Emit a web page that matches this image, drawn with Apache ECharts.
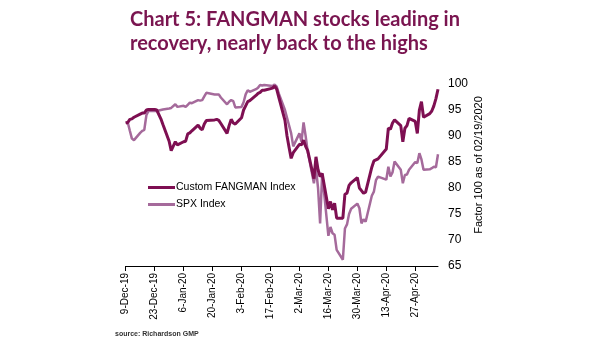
<!DOCTYPE html>
<html>
<head>
<meta charset="utf-8">
<script src="https://cdn.jsdelivr.net/npm/echarts@6/dist/echarts.min.js"></script>
<style>html,body{margin:0;padding:0;background:#fff;}#c{width:605px;height:341px;}</style>
</head>
<body>
<div id="c"></div>
<script>
// Trading days shown in the chart
const tradingDays = [
 '2019-12-09','2019-12-10','2019-12-11','2019-12-12','2019-12-13','2019-12-16','2019-12-17','2019-12-18','2019-12-19','2019-12-20','2019-12-23','2019-12-24','2019-12-26','2019-12-27','2019-12-30','2019-12-31',
 '2020-01-02','2020-01-03','2020-01-06','2020-01-07','2020-01-08','2020-01-09','2020-01-10','2020-01-13','2020-01-14','2020-01-15','2020-01-16','2020-01-17','2020-01-21','2020-01-22','2020-01-23','2020-01-24','2020-01-27','2020-01-28','2020-01-29','2020-01-30','2020-01-31',
 '2020-02-03','2020-02-04','2020-02-05','2020-02-06','2020-02-07','2020-02-10','2020-02-11','2020-02-12','2020-02-13','2020-02-14','2020-02-18','2020-02-19','2020-02-20','2020-02-21','2020-02-24','2020-02-25','2020-02-26','2020-02-27','2020-02-28',
 '2020-03-02','2020-03-03','2020-03-04','2020-03-05','2020-03-06','2020-03-09','2020-03-10','2020-03-11','2020-03-12','2020-03-13','2020-03-16','2020-03-17','2020-03-18','2020-03-19','2020-03-20','2020-03-23','2020-03-24','2020-03-25','2020-03-26','2020-03-27','2020-03-30','2020-03-31',
 '2020-04-01','2020-04-02','2020-04-03','2020-04-06','2020-04-07','2020-04-08','2020-04-09','2020-04-13','2020-04-14','2020-04-15','2020-04-16','2020-04-17','2020-04-20','2020-04-21','2020-04-22','2020-04-23','2020-04-24','2020-04-27','2020-04-28','2020-04-29','2020-04-30',
 '2020-05-01','2020-05-04','2020-05-05','2020-05-06','2020-05-07','2020-05-08'
];
const fangman = [
 92.5,92.6,93.2,93.3,93.6,94.2,94.4,94.4,95.0,95.1,95.1,95.0,93.3,92.2,89.0,87.2,
 88.9,88.3,88.9,89.0,90.4,90.6,91.0,92.1,91.5,91.2,92.3,93.0,93.1,93.2,93.0,92.4,90.5,92.0,93.2,92.5,92.3,
 93.5,95.0,95.8,96.6,96.8,97.8,98.2,98.4,98.8,98.8,99.2,99.6,99.0,97.5,93.0,90.0,87.8,85.7,86.8,
 88.4,88.3,89.2,88.0,87.2,81.8,86.0,83.5,82.2,82.8,76.0,77.4,75.8,77.1,74.2,74.2,78.8,79.0,80.5,81.0,82.0,80.0,
 79.5,79.0,79.2,84.0,85.2,85.4,85.6,87.5,91.5,91.3,92.5,93.1,92.0,88.9,91.5,92.0,93.4,92.8,90.5,95.0,96.6,
 93.6,94.3,94.8,95.8,97.2,99.0
];
const spx = [
 92.6,92.6,91.0,89.5,89.2,90.6,91.0,91.2,94.0,94.8,94.8,94.8,95.0,95.1,95.3,95.4,
 96.1,95.6,95.8,95.6,96.0,96.4,96.3,96.9,96.8,96.9,97.6,98.3,98.0,98.0,98.0,97.4,96.1,96.6,96.9,96.7,95.5,
 95.6,96.5,98.0,98.8,98.5,99.0,99.3,99.8,99.7,99.8,99.6,99.9,99.5,98.2,95.0,93.5,92.0,90.5,88.0,
 90.5,88.9,92.6,90.0,87.0,80.9,83.8,80.0,73.2,82.8,70.8,72.5,71.3,71.0,68.1,66.2,72.2,73.0,75.0,76.0,77.0,76.1,
 73.2,74.0,73.5,78.5,79.3,81.5,82.2,81.6,84.1,82.2,83.0,85.1,83.5,80.9,82.5,82.6,83.5,85.0,84.8,86.7,85.5,
 83.5,83.6,83.8,84.1,84.0,86.5
];
const axisStart = '2019-12-09';
const axisEnd = '2020-05-08';
const tickEveryDays = 14;
const yTicks = [65,70,75,80,85,90,95,100];
const seriesNames = ['Custom FANGMAN Index','SPX Index'];
const titleText = 'Chart 5: FANGMAN stocks leading in\nrecovery, nearly back to the highs';
const yAxisName = 'Factor 100 as of 02/19/2020';
const sourceText = 'source: Richardson GMP';

const MONTHS = ['Jan','Feb','Mar','Apr','May','Jun','Jul','Aug','Sep','Oct','Nov','Dec'];
function fmt(t){ const d=new Date(t); return d.getUTCDate()+'-'+MONTHS[d.getUTCMonth()]+'-'+String(d.getUTCFullYear()).slice(2); }
function ts(s){ return Date.parse(s+'T00:00:00Z'); }
const categories=[];
for(let t=ts(axisStart); t<=ts(axisEnd); t+=86400000) categories.push(fmt(t));

const darkColor='#7E0F52', lightColor='#A56A9B';
const chart=echarts.init(document.getElementById('c'));
chart.setOption({
  animation:false,
  backgroundColor:'#fff',
  title:{text:titleText,left:125,top:3,textStyle:{fontFamily:'Lato',fontSize:20,fontWeight:'bold',color:'#7A1550',lineHeight:24}},
  legend:{orient:'vertical',left:143,top:177,itemWidth:27,itemHeight:3,itemGap:6,icon:'rect',
    data:seriesNames,textStyle:{fontFamily:'Liberation Sans',fontSize:10.5,color:'#000',padding:[0,0,0,-4]}},
  grid:{left:125.7,right:167,top:84,bottom:75,containLabel:false},
  xAxis:{type:'category',data:categories,boundaryGap:false,
    axisLine:{lineStyle:{color:'#000',width:1}},
    axisTick:{show:true,length:5,interval:(i)=>i%tickEveryDays===0,lineStyle:{color:'#000'}},
    axisLabel:{rotate:90,interval:(i)=>i%tickEveryDays===0,fontFamily:'Liberation Sans',fontSize:10,color:'#000',margin:7},
    splitLine:{show:false}},
  yAxis:{type:'value',position:'right',min:yTicks[0],max:yTicks[yTicks.length-1],interval:5,
    axisLine:{show:false},axisTick:{show:false},splitLine:{show:false},
    axisLabel:{fontFamily:'Liberation Sans',fontSize:12,color:'#000',margin:10}},
  series:[
    {name:seriesNames[1],type:'line',showSymbol:false,color:lightColor,
     lineStyle:{color:lightColor,width:2.5},
     data:tradingDays.map((d,i)=>[fmt(ts(d)),spx[i]])},
    {name:seriesNames[0],type:'line',showSymbol:false,color:darkColor,
     lineStyle:{color:darkColor,width:3},
     data:tradingDays.map((d,i)=>[fmt(ts(d)),fangman[i]])}
  ],
  graphic:[
    {type:'text',x:479,y:165,rotation:Math.PI/2,style:{text:yAxisName,fontFamily:'Liberation Sans',fontSize:11,fill:'#000',align:'center',verticalAlign:'middle'}},
    {type:'text',left:115,top:331,style:{text:sourceText,fontFamily:'Liberation Sans',fontSize:7,fontWeight:'bold',fill:'#333'}}
  ]
});
</script>
</body>
</html>
